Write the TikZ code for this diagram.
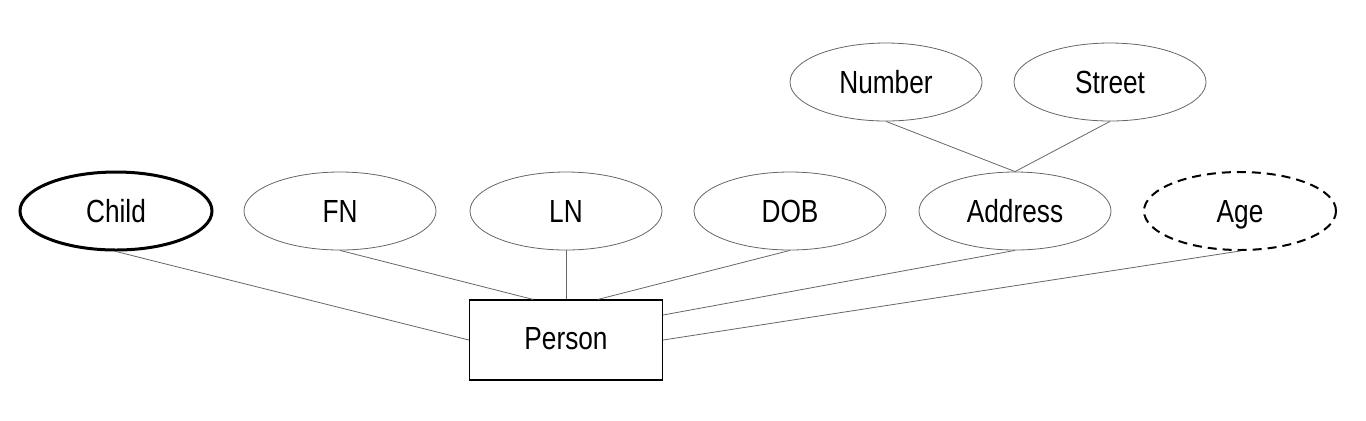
\documentclass[tikz,border=0pt]{standalone}
\usepackage{fontspec}
\setmainfont{Liberation Sans}[FakeStretch = 0.82]
\usetikzlibrary{shapes}
\tikzstyle{attribute} = [ellipse, draw = black!60, line width = .4pt, inner sep = 0,
                         text height = 12pt, text depth = 1pt,
                         minimum width = 96pt, minimum height = 39pt]
\tikzstyle{multi attribute} = [attribute, draw = black, line width = 1.5pt]
\tikzstyle{derived attribute} = [attribute, draw = black, line width = 1pt,
                                 dash pattern = on 4.5pt off 3pt]
\tikzstyle{entity} = [rectangle, draw, line width = .6pt,
                      text height = 11.5pt, text depth = 2.5pt,
                      minimum width = 96.5pt, minimum height = 40pt]
\tikzstyle{link} = [draw, black!60, line width = .4pt]
\tikzstyle{er picture} = [x = .5pt, y = -.5pt, font = \fontsize{16}{19}\selectfont]

\begin{document}
\begin{tikzpicture}[er picture]
        \useasboundingbox (0, 0) rectangle (1366, 420);

        \node [entity] (person) at (566, 340) {Person};

        \node [multi attribute] (attr_Child) at (116, 211) {Child};
        \foreach \name/\x in {FN/340, LN/566, DOB/790, Address/1015}
        {
            \node [attribute] (attr_\name) at (\x, 211) {\name};
        }
        \node [derived attribute] (attr_Age) at (1240, 211) {Age};

        \foreach \name/\x in {Number/886, Street/1110}
        {
            \node [attribute] (attr_\name) at (\x, 82) {\name};
        }

        \path [link] (attr_Child.south) -- (person.west);
        \path [link] (attr_FN.south) -- ([xshift = -16.5pt] person.north);
        \path [link] (attr_LN.south) -- (person.north);
        \path [link] (attr_DOB.south) -- ([xshift = 16pt] person.north);
        \path [link] (attr_Address.south) -- ([yshift = 12.5pt] person.east);
        \path [link] (attr_Age.south) -- (person.east);

        \foreach \name in {Number, Street}
        {
            \path [link] (attr_\name.south) -- (attr_Address.north);
        }
    \end{tikzpicture}
\end{document}
